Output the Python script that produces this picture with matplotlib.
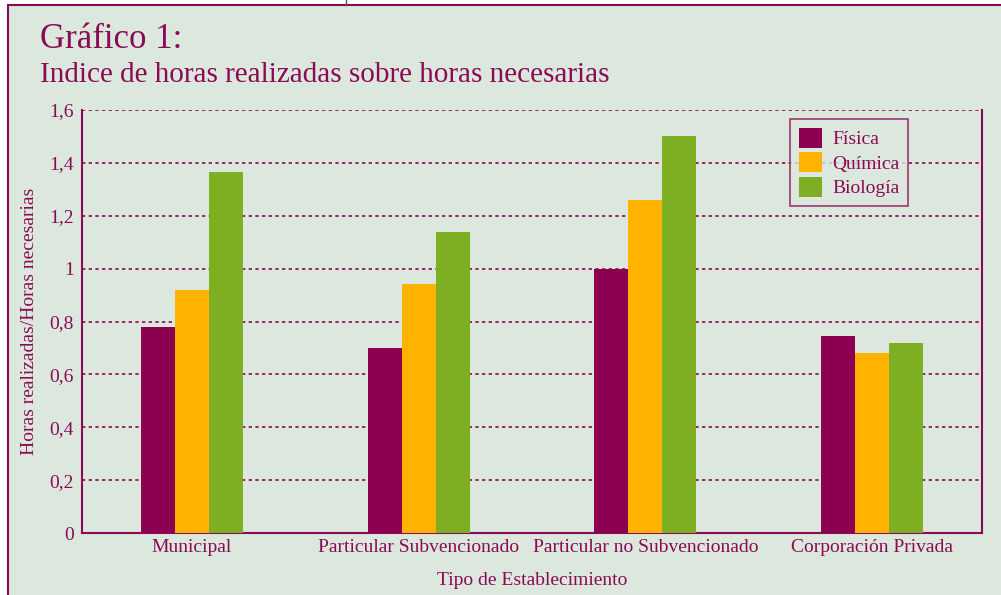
import matplotlib.pyplot as plt
import numpy as np
from matplotlib.patches import Rectangle
from matplotlib.lines import Line2D

categories = ['Municipal', 'Particular Subvencionado', 'Particular no Subvencionado', 'Corporación Privada']
fisica = [0.78, 0.70, 1.00, 0.745]
quimica = [0.92, 0.94, 1.26, 0.68]
biologia = [1.365, 1.14, 1.50, 0.72]
series_names = ['Física', 'Química', 'Biología']
yticks = [0, 0.2, 0.4, 0.6, 0.8, 1.0, 1.2, 1.4, 1.6]
ytick_labels = ['0', '0,2', '0,4', '0,6', '0,8', '1', '1,2', '1,4', '1,6']

bg = '#dce8dd'
mag = '#8b0a55'
colors = ['#8b0050', '#ffb300', '#7eaf22']

plt.rcParams['font.family'] = 'Liberation Serif'

fig = plt.figure(figsize=(10.01, 5.95), dpi=100)
fig.patch.set_facecolor('white')
# panel background with magenta frame
fig.patches.append(Rectangle((8 / 1001, -0.01), 1.0, 1 - 5 / 595 + 0.01, transform=fig.transFigure,
                             facecolor=bg, edgecolor=mag, linewidth=1.5, zorder=-10))
fig.lines.append(Line2D([346 / 1001, 346 / 1001], [1 - 5 / 595, 1.0], transform=fig.transFigure,
                        color='#555555', linewidth=1))

ax = fig.add_axes([82 / 1001, 1 - 533 / 595, 900 / 1001, 423 / 595])
ax.set_facecolor(bg)

x = np.arange(len(categories))
w = 0.15
for i, (vals, c, name) in enumerate(zip([fisica, quimica, biologia], colors, series_names)):
    ax.bar(x + (i - 1) * w, vals, width=w, color=c, label=name, zorder=3)

ax.set_xlim(-0.485, len(categories) - 0.515)
ax.set_ylim(0, 1.6)
ax.set_yticks(yticks)
ax.set_yticklabels(ytick_labels)
ax.set_xticks(x)
ax.set_xticklabels(categories)
ax.tick_params(axis='both', colors=mag, labelsize=14, length=0, pad=4)
ax.tick_params(axis='y', pad=6)
ax.yaxis.grid(True, linestyle=(0, (2, 2)), color=mag, linewidth=1.2)
ax.set_axisbelow(True)

for s in ['left', 'bottom', 'right']:
    ax.spines[s].set_color(mag)
    ax.spines[s].set_linewidth(1.5)
ax.spines['top'].set_visible(False)

ax.set_ylabel('Horas realizadas/Horas necesarias', color=mag, fontsize=14, labelpad=8)
ax.set_xlabel('Tipo de Establecimiento', color=mag, fontsize=14, labelpad=12)

leg = ax.legend(loc='upper right', bbox_to_anchor=((908 - 82) / 900, 1 - 9 / 423), fontsize=14,
                frameon=True, fancybox=False, handlelength=1.2, handleheight=1.2,
                handletextpad=0.5, labelspacing=0.2, borderpad=0.45, borderaxespad=0,
                labelcolor=mag)
leg.get_frame().set_edgecolor(mag)
leg.get_frame().set_facecolor(bg)
leg.get_frame().set_linewidth(1.2)

fig.text(40 / 1001, 1 - 48 / 595, 'Gráfico 1:', color=mag, fontsize=25)
fig.text(40 / 1001, 1 - 82 / 595, 'Indice de horas realizadas sobre horas necesarias', color=mag, fontsize=21)

fig.savefig('out.png', dpi=100, facecolor=fig.get_facecolor())
